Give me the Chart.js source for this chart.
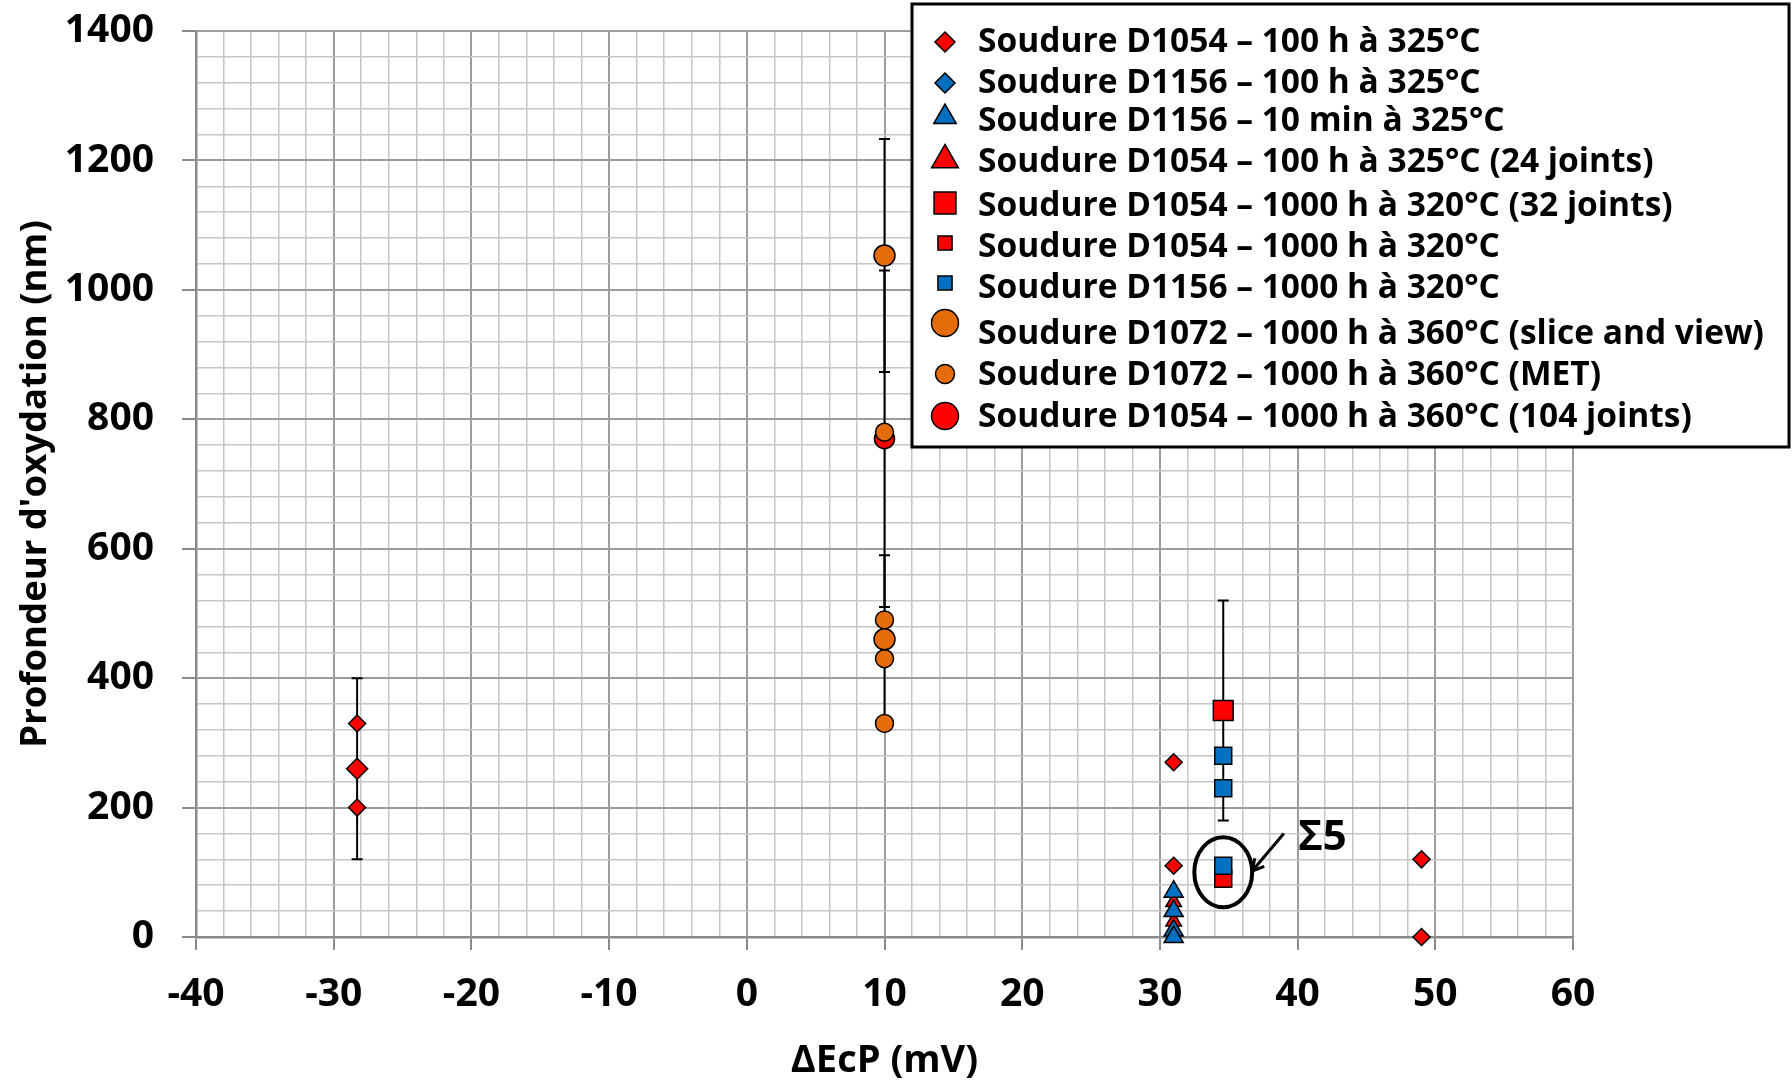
<!DOCTYPE html>
<html>
<head>
<meta charset="utf-8">
<script src="https://cdn.jsdelivr.net/npm/chart.js@4.4.1/dist/chart.umd.min.js"></script>
<style>
  body { margin: 0; background: #fff; }
</style>
</head>
<body>
<canvas id="chart" width="1792" height="1080"></canvas>
<script>
  // series labels, in legend order
  const seriesLabels = [
    'Soudure D1054 – 100 h à 325°C',
    'Soudure D1156 – 100 h à 325°C',
    'Soudure D1156 – 10 min à 325°C',
    'Soudure D1054 – 100 h à 325°C (24 joints)',
    'Soudure D1054 – 1000 h à 320°C (32 joints)',
    'Soudure D1054 – 1000 h à 320°C',
    'Soudure D1156 – 1000 h à 320°C',
    'Soudure D1072 – 1000 h à 360°C (slice and view)',
    'Soudure D1072 – 1000 h à 360°C (MET)',
    'Soudure D1054 – 1000 h à 360°C (104 joints)'
  ];

  // ΔEcP (mV), depth (nm), error (nm) per series
  const d1054_100h_x = [-28.3, -28.3, -28.3, 31, 31, 49, 49];
  const d1054_100h_y = [330, 260, 200, 270, 110, 120, 0];
  const d1054_100h_err = [0, 140, 0, 0, 0, 0, 0];

  const d1156_100h_x = [-28.3];
  const d1156_100h_y = [260];

  const d1156_10min_x = [31, 31, 31, 31];
  const d1156_10min_y = [70, 40, 10, 0];

  const d1054_24j_x = [31, 31];
  const d1054_24j_y = [54, 24];

  const d1054_32j_x = [34.6];
  const d1054_32j_y = [350];
  const d1054_32j_err = [170];

  const d1054_1000h_x = [34.6];
  const d1054_1000h_y = [90];

  const d1156_1000h_x = [34.6, 34.6, 34.6];
  const d1156_1000h_y = [280, 230, 110];

  const d1072_sv_x = [10, 10];
  const d1072_sv_y = [1053, 460];
  const d1072_sv_err = [180, 130];

  const d1072_met_x = [10, 10, 10, 10];
  const d1072_met_y = [780, 490, 430, 330];

  const d1054_104j_x = [10];
  const d1054_104j_y = [770];
  const d1054_104j_err = [260];

  const xTicks = [-40, -30, -20, -10, 0, 10, 20, 30, 40, 50, 60];
  const yTicks = [0, 200, 400, 600, 800, 1000, 1200, 1400];

  const RED = '#FF0000', BLUE = '#0070C0', ORANGE = '#E46C0A';
  const FONT = '"Open Sans", "DejaVu Sans", sans-serif';

  function pts(xs, ys, errs) {
    return xs.map((x, i) => ({ x: x, y: ys[i], err: errs ? errs[i] : 0 }));
  }

  // marker drawing for the legend
  function drawMarker(ctx, style, r, x, y, fill) {
    ctx.save();
    ctx.fillStyle = fill;
    ctx.strokeStyle = '#000';
    ctx.lineWidth = 1.5;
    ctx.beginPath();
    if (style === 'circle') {
      ctx.arc(x, y, r, 0, Math.PI * 2);
    } else if (style === 'rectRot') {
      ctx.moveTo(x, y - r); ctx.lineTo(x + r, y); ctx.lineTo(x, y + r); ctx.lineTo(x - r, y);
      ctx.closePath();
    } else if (style === 'rect') {
      const s = r * Math.SQRT1_2;
      ctx.rect(x - s, y - s, 2 * s, 2 * s);
    } else if (style === 'triangle') {
      const h = r * Math.sqrt(3) / 2;
      ctx.moveTo(x, y - r); ctx.lineTo(x + h, y + r / 2); ctx.lineTo(x - h, y + r / 2);
      ctx.closePath();
    }
    ctx.fill();
    ctx.stroke();
    ctx.restore();
  }

  const datasets = [
    { data: pts(d1054_100h_x, d1054_100h_y, d1054_100h_err), pointStyle: 'rectRot', color: RED,
      pointRadius: [8.5, 10.5, 8.5, 8.5, 8.5, 8.5, 8.5], order: 10, legR: 10 },
    { data: pts(d1156_100h_x, d1156_100h_y), pointStyle: 'rectRot', color: BLUE, pointRadius: 8.5, order: 11, legR: 10 },
    { data: pts(d1156_10min_x, d1156_10min_y), pointStyle: 'triangle', color: BLUE, pointRadius: 11, order: 8, legR: 13 },
    { data: pts(d1054_24j_x, d1054_24j_y), pointStyle: 'triangle', color: RED, pointRadius: 9, order: 9, legR: 15.5 },
    { data: pts(d1054_32j_x, d1054_32j_y, d1054_32j_err), pointStyle: 'rect', color: RED, pointRadius: 14, order: 7, legR: 15.5 },
    { data: pts(d1054_1000h_x, d1054_1000h_y), pointStyle: 'rect', color: RED, pointRadius: 12, order: 6, legR: 10 },
    { data: pts(d1156_1000h_x, d1156_1000h_y), pointStyle: 'rect', color: BLUE, pointRadius: 12, order: 5, legR: 10 },
    { data: pts(d1072_sv_x, d1072_sv_y, d1072_sv_err), pointStyle: 'circle', color: ORANGE, pointRadius: 10.5, order: 2, legR: 13.5 },
    { data: pts(d1072_met_x, d1072_met_y), pointStyle: 'circle', color: ORANGE, pointRadius: 9, order: 3, legR: 9.5 },
    { data: pts(d1054_104j_x, d1054_104j_y, d1054_104j_err), pointStyle: 'circle', color: RED, pointRadius: 10, order: 4, legR: 13.5 }
  ].map((d, i) => ({
    label: seriesLabels[i],
    data: d.data,
    pointStyle: d.pointStyle,
    pointRadius: d.pointRadius,
    pointHoverRadius: d.pointRadius,
    backgroundColor: d.color,
    borderColor: '#000',
    pointBorderWidth: 1.5,
    showLine: false,
    clip: false,
    order: d.order,
    legR: d.legR
  }));

  // vertical error bars, drawn under the markers
  const errorBars = {
    id: 'errorBars',
    beforeDatasetsDraw(chart) {
      const { ctx, scales: { x, y } } = chart;
      ctx.save();
      ctx.strokeStyle = '#000';
      ctx.lineWidth = 2;
      chart.data.datasets.forEach(ds => {
        ds.data.forEach(p => {
          if (!p.err) return;
          const px = x.getPixelForValue(p.x);
          const top = y.getPixelForValue(p.y + p.err);
          const bot = y.getPixelForValue(p.y - p.err);
          ctx.beginPath();
          ctx.moveTo(px, top); ctx.lineTo(px, bot);
          ctx.moveTo(px - 5.5, top); ctx.lineTo(px + 5.5, top);
          ctx.moveTo(px - 5.5, bot); ctx.lineTo(px + 5.5, bot);
          ctx.stroke();
        });
      });
      ctx.restore();
    }
  };

  // Σ5 annotation: ellipse, arrow and label, placed in data units
  const sigmaCenter = { x: 34.6, y: 100 };
  const sigmaRadii = { x: 2.1, y: 54 };
  const arrowFrom = { x: 39.0, y: 160 };
  const arrowTo = { x: 36.7, y: 102 };
  const sigmaLabel = { x: 41.8, y: 153, text: 'Σ5' };

  const annotations = {
    id: 'annotations',
    afterDatasetsDraw(chart) {
      const { ctx, scales: { x, y } } = chart;
      ctx.save();
      ctx.strokeStyle = '#000';
      ctx.lineWidth = 4;
      const cx = x.getPixelForValue(sigmaCenter.x), cy = y.getPixelForValue(sigmaCenter.y);
      const rx = x.getPixelForValue(sigmaCenter.x + sigmaRadii.x) - cx;
      const ry = cy - y.getPixelForValue(sigmaCenter.y + sigmaRadii.y);
      ctx.beginPath();
      ctx.ellipse(cx, cy, rx, ry, 0, 0, Math.PI * 2);
      ctx.stroke();

      const ax = x.getPixelForValue(arrowFrom.x), ay = y.getPixelForValue(arrowFrom.y);
      const bx = x.getPixelForValue(arrowTo.x), by = y.getPixelForValue(arrowTo.y);
      ctx.lineWidth = 3;
      ctx.beginPath();
      ctx.moveTo(ax, ay); ctx.lineTo(bx, by);
      const ang = Math.atan2(by - ay, bx - ax);
      ctx.moveTo(bx - 13 * Math.cos(ang - 0.5), by - 13 * Math.sin(ang - 0.5));
      ctx.lineTo(bx, by);
      ctx.lineTo(bx - 13 * Math.cos(ang + 0.5), by - 13 * Math.sin(ang + 0.5));
      ctx.stroke();

      ctx.fillStyle = '#000';
      ctx.font = 'bold 42px ' + FONT;
      ctx.textAlign = 'center';
      ctx.textBaseline = 'middle';
      ctx.fillText(sigmaLabel.text, x.getPixelForValue(sigmaLabel.x), y.getPixelForValue(sigmaLabel.y));
      ctx.restore();
    }
  };

  // boxed legend sitting over the top-right of the plot
  const legendRowY = [42, 83, 121, 162, 206, 247, 288, 334, 375, 417];
  const legendMarkY = [42, 83, 117, 160, 203, 243, 283, 323, 374, 416];
  const boxedLegend = {
    id: 'boxedLegend',
    afterDraw(chart) {
      const ctx = chart.ctx;
      ctx.save();
      ctx.fillStyle = '#fff';
      ctx.strokeStyle = '#000';
      ctx.lineWidth = 3;
      ctx.fillRect(912, 4, 877, 443);
      ctx.strokeRect(912, 4, 877, 443);
      ctx.font = 'bold 33.5px ' + FONT;
      ctx.textBaseline = 'middle';
      ctx.textAlign = 'left';
      chart.data.datasets.forEach((ds, i) => {
        drawMarker(ctx, ds.pointStyle, ds.legR, 945, legendMarkY[i], ds.backgroundColor);
        ctx.fillStyle = '#000';
        ctx.fillText(ds.label, 978, legendRowY[i]);
      });
      ctx.restore();
    }
  };

  const isMajorX = v => xTicks.includes(v);
  const isMajorY = v => yTicks.includes(v);

  new Chart(document.getElementById('chart'), {
    type: 'scatter',
    data: { datasets: datasets },
    options: {
      responsive: false,
      animation: false,
      devicePixelRatio: 1,
      layout: { padding: { left: 0, right: 219, top: 31, bottom: 0 } },
      plugins: { legend: { display: false }, tooltip: { enabled: false } },
      scales: {
        x: {
          type: 'linear',
          min: -40, max: 60,
          afterFit: s => { s.height = 143; },
          border: { color: '#8a8a8a', width: 2.5 },
          grid: {
            color: c => isMajorX(c.tick.value) ? '#9c9c9c' : '#c6c6c6',
            lineWidth: c => isMajorX(c.tick.value) ? 2 : 1.5,
            tickColor: c => isMajorX(c.tick.value) ? '#8a8a8a' : 'rgba(0,0,0,0)',
            tickLength: 13,
            tickWidth: 2
          },
          ticks: {
            stepSize: 2,
            autoSkip: false,
            maxRotation: 0,
            padding: 21,
            color: '#000',
            font: { family: FONT, size: 39, weight: 'bold' },
            callback: v => isMajorX(v) ? String(v) : ''
          },
          title: {
            display: true,
            text: 'ΔEcP (mV)',
            color: '#000',
            font: { family: FONT, size: 38, weight: 'bold', lineHeight: 1 },
            padding: { top: 0, bottom: 0 }
          }
        },
        y: {
          type: 'linear',
          min: 0, max: 1400,
          afterFit: s => { s.width = 196; s.paddingTop = 0; s.paddingBottom = 0; },
          border: { color: '#8a8a8a', width: 2.5 },
          grid: {
            color: c => isMajorY(c.tick.value) ? '#9c9c9c' : '#c6c6c6',
            lineWidth: c => isMajorY(c.tick.value) ? 2 : 1.5,
            tickColor: c => isMajorY(c.tick.value) ? '#8a8a8a' : 'rgba(0,0,0,0)',
            tickLength: 14,
            tickWidth: 2
          },
          ticks: {
            stepSize: 40,
            autoSkip: false,
            padding: 28,
            color: '#000',
            font: { family: FONT, size: 39, weight: 'bold' },
            callback: v => isMajorY(v) ? String(v) : ''
          },
          title: {
            display: true,
            text: "Profondeur d'oxydation (nm)",
            color: '#000',
            font: { family: FONT, size: 36.5, weight: 'bold' },
            padding: { top: 14, bottom: 0 }
          }
        }
      }
    },
    plugins: [errorBars, annotations, boxedLegend]
  });
</script>
</body>
</html>
